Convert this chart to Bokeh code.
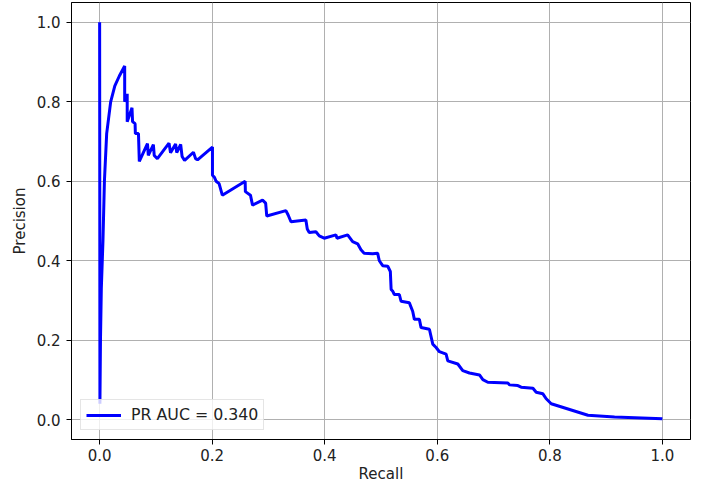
from bokeh.plotting import figure
from bokeh.models import Range1d, FixedTicker, Legend, LegendItem
from bokeh.embed import file_html
from bokeh.resources import INLINE

# Precision-recall curve points
recall = [0.0, 0.0005, 0.0015, 0.003, 0.0059, 0.0085, 0.0125, 0.0196, 0.027, 0.035, 0.0445,
          0.0445, 0.049, 0.049, 0.0575, 0.0585, 0.063, 0.0635, 0.069, 0.0705,
          0.085, 0.0865, 0.0955, 0.097, 0.1026, 0.1233, 0.126, 0.135, 0.137, 0.144,
          0.1465, 0.151, 0.1667, 0.1705, 0.174, 0.2005,
          0.2005, 0.204, 0.207, 0.2123, 0.218, 0.2586, 0.259, 0.268, 0.2717, 0.2895,
          0.295, 0.297, 0.331, 0.335, 0.34, 0.3665, 0.369, 0.3725, 0.3843, 0.3903,
          0.399, 0.42, 0.4217, 0.4407, 0.4496, 0.4585, 0.4644, 0.470, 0.4852, 0.494,
          0.497, 0.503, 0.512, 0.5166, 0.518, 0.521, 0.5237, 0.5326, 0.5356, 0.5504,
          0.5563, 0.5593, 0.5682, 0.5712, 0.586, 0.592, 0.5979, 0.6038, 0.6157, 0.6187,
          0.6365, 0.6453, 0.6572, 0.675, 0.681, 0.6898, 0.7254, 0.7283, 0.7432, 0.749,
          0.77, 0.7758, 0.7877, 0.7936, 0.8025, 0.8678, 0.915, 1.0]
precision = [1.0, 0.04, 0.2, 0.33, 0.45, 0.6, 0.72, 0.80, 0.84, 0.865, 0.89,
             0.80, 0.82, 0.75, 0.785, 0.75, 0.745, 0.72, 0.72, 0.65,
             0.695, 0.665, 0.6925, 0.665, 0.657, 0.696, 0.672, 0.694, 0.672, 0.6925,
             0.6625, 0.6525, 0.673, 0.657, 0.654, 0.686,
             0.615, 0.610, 0.60, 0.594, 0.565, 0.60, 0.574, 0.565, 0.54, 0.5525,
             0.545, 0.5125, 0.526, 0.515, 0.498, 0.5025, 0.48, 0.4708, 0.473, 0.4625,
             0.4567, 0.465, 0.4567, 0.465, 0.448, 0.4425, 0.4275, 0.419, 0.4175, 0.419,
             0.40, 0.3875, 0.386, 0.373, 0.3275, 0.323, 0.315, 0.315, 0.298, 0.294,
             0.273, 0.2525, 0.2525, 0.2317, 0.2275, 0.19, 0.1817, 0.171, 0.165, 0.148,
             0.14, 0.1233, 0.1175, 0.1125, 0.1008, 0.0942, 0.0925, 0.0875, 0.0858, 0.0817,
             0.079, 0.069, 0.065, 0.0525, 0.04, 0.011, 0.0067, 0.0025]

pr_auc = 0.340
ticks = [0.0, 0.2, 0.4, 0.6, 0.8, 1.0]
tick_labels = {t: f"{t:.1f}" for t in ticks}

p = figure(width=694, height=485, output_backend="svg", toolbar_location=None,
           x_range=Range1d(-0.05, 1.05), y_range=Range1d(-0.05, 1.05),
           min_border_left=71, min_border_right=4, min_border_top=2, min_border_bottom=44)

FONT = "DejaVu Sans"
p.background_fill_color = "white"
p.outline_line_color = "black"
p.outline_line_width = 1
p.outline_line_alpha = 1.0

for ax in (p.xaxis[0], p.yaxis[0]):
    ax.ticker = FixedTicker(ticks=ticks)
    ax.major_label_overrides = tick_labels
    ax.major_label_text_font = FONT
    ax.major_label_text_font_size = "15px"
    ax.major_label_text_color = "#222222"
    ax.axis_label_text_font = FONT
    ax.axis_label_text_font_size = "15px"
    ax.axis_label_text_font_style = "normal"
    ax.axis_label_text_color = "#222222"
    ax.major_tick_out = 5
    ax.major_tick_in = 0
    ax.minor_tick_out = 0
    ax.minor_tick_in = 0
    ax.axis_line_color = "black"
    ax.major_tick_line_color = "black"

p.yaxis.major_label_standoff = 6
p.yaxis.axis_label_standoff = 5
p.xaxis.major_label_standoff = 4
p.xaxis.axis_label_standoff = 1

p.xaxis.axis_label = "Recall"
p.yaxis.axis_label = "Precision"

p.xgrid.ticker = FixedTicker(ticks=ticks)
p.ygrid.ticker = FixedTicker(ticks=ticks)
p.grid.grid_line_color = "#b0b0b0"
p.grid.grid_line_width = 1

r = p.line(recall, precision, line_color="#0000ff", line_width=3)

legend = Legend(items=[LegendItem(label=f"PR AUC = {pr_auc:.3f}", renderers=[r])],
                location="bottom_left")
legend.margin = 9
legend.padding = 5
legend.spacing = 0
legend.glyph_width = 35
legend.glyph_height = 18
legend.label_height = 18
legend.label_standoff = 10
legend.label_text_font = FONT
legend.label_text_font_size = "15.8px"
legend.label_text_color = "#222222"
legend.border_line_color = "#cccccc"
legend.border_line_width = 1
legend.background_fill_color = "white"
legend.background_fill_alpha = 0.8
p.add_layout(legend)

open("out.html", "w").write(file_html(p, INLINE))
